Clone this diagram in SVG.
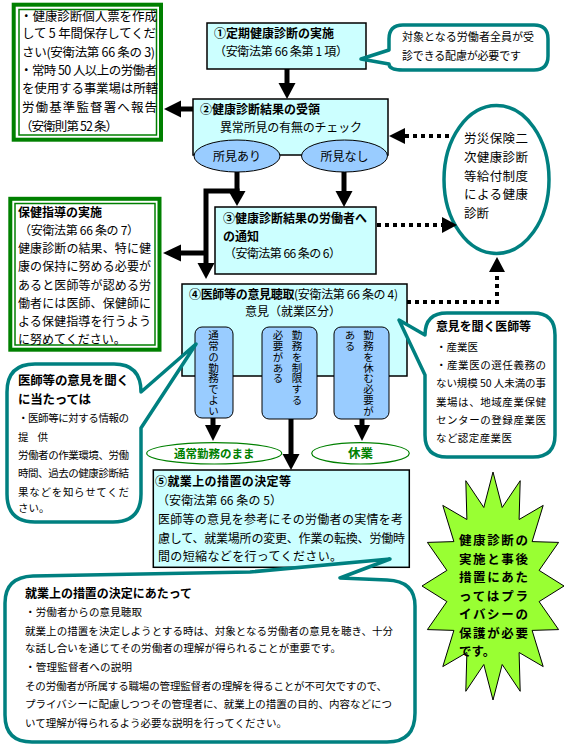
<svg xmlns="http://www.w3.org/2000/svg" width="567" height="746" viewBox="0 0 567 746">
<style>
text{font-family:"Noto Sans CJK JP","Noto Sans",sans-serif;fill:#000}
.f125{font-size:12.5px}.f12{font-size:12px}.f11{font-size:11px}.f105{font-size:10.5px}
.b{font-weight:bold}
.v{writing-mode:vertical-rl;font-size:10.5px;letter-spacing:0.3px}
.box{fill:#ccffff;stroke:#000;stroke-width:1.5}
.oval{fill:#99ccff;stroke:#000;stroke-width:1}
.callout{fill:#fff;stroke:#008080;stroke-width:3.5;stroke-linejoin:round}
.gframe{fill:#fff;stroke:#008000;stroke-width:4}
.gin{fill:none;stroke:#008000;stroke-width:1.5}
.gov{fill:#fff;stroke:#008000;stroke-width:1.2}
.gt{fill:#008000;font-weight:bold}
.line{stroke:#000;stroke-width:5;fill:none;stroke-linejoin:miter}
.dot{stroke:#000;stroke-width:4;stroke-dasharray:4 4;fill:none}
.head{fill:#000}
.star{fill:#99ff33;stroke:#000;stroke-width:1}
</style>

<g id="note-record">
<rect class="gframe" x="13.7" y="4.7" width="147.3" height="135"/>
<rect class="gin" x="19" y="9.5" width="137.5" height="125.5"/>
<text class="f125" x="20" y="20.8" textLength="137">・健康診断個人票を作成</text>
<text class="f125" x="22" y="38" textLength="134">して 5 年間保存してくだ</text>
<text class="f125" x="22" y="56.5" textLength="133">さい(安衛法第 66 条の 3)</text>
<text class="f125" x="20" y="74.8" textLength="137">・常時 50 人以上の労働者</text>
<text class="f125" x="22" y="93" textLength="136">を使用する事業場は所轄</text>
<text class="f125" x="22" y="111.5" textLength="135">労働基準監督署へ報告</text>
<text class="f125" x="20" y="130.8" textLength="98">（安衛則第 52 条）</text>
</g>

<g id="note-guidance">
<rect class="gframe" x="10.3" y="198.8" width="149.2" height="150.9"/>
<rect class="gin" x="15" y="203.5" width="140" height="141.5"/>
<text class="f12 b" x="18" y="217.3">保健指導の実施</text>
<text class="f12" x="19" y="234.6" textLength="120">（安衛法第 66 条の 7）</text>
<text class="f12" x="18" y="253" textLength="133">健康診断の結果、特に健</text>
<text class="f12" x="18" y="271.3" textLength="133">康の保持に努める必要が</text>
<text class="f12" x="18" y="289.6" textLength="133">あると医師等が認める労</text>
<text class="f12" x="18" y="308" textLength="133">働者には医師、保健師に</text>
<text class="f12" x="18" y="326.3" textLength="133">よる保健指導を行うよう</text>
<text class="f12" x="18" y="344">に努めてください。</text>
</g>

<g id="step1">
<rect class="box" x="207" y="23" width="159" height="46"/>
<text class="f12 b" x="214" y="37.9">①定期健康診断の実施</text>
<text class="f12" x="214" y="56.3" textLength="134">（安衛法第 66 条第 1 項）</text>
</g>

<g id="callout-top">
<path class="callout" d="M389,39 Q389,25 403,25 L534,25 Q548,25 548,39 L548,56 Q548,70 534,70 L403,70 Q389,70 389,64 L361,59 L389,50 Z"/>
<text class="f11" x="402" y="40.9" textLength="132">対象となる労働者全員が受</text>
<text class="f11" x="402" y="60.2" textLength="119">診できる配慮が必要です</text>
</g>

<g id="step2">
<rect class="box" x="193" y="99" width="195" height="56"/>
<text class="f12 b" x="200" y="113.9">②健康診断結果の受領</text>
<text class="f12" x="220" y="132.3" textLength="142">異常所見の有無のチェック</text>
<ellipse class="oval" cx="237" cy="156" rx="43" ry="16"/>
<text class="f12" x="237" y="160.5" text-anchor="middle">所見あり</text>
<ellipse class="oval" cx="344.5" cy="156" rx="43" ry="16"/>
<text class="f12" x="344.5" y="160.5" text-anchor="middle">所見なし</text>
</g>

<g id="rousai">
<ellipse cx="496.5" cy="179.5" rx="52.5" ry="74" fill="#fff" stroke="#008080" stroke-width="3.5"/>
<text class="f125" x="464" y="143" textLength="64">労災保険二</text>
<text class="f125" x="464" y="161.5" textLength="64">次健康診断</text>
<text class="f125" x="464" y="180.5" textLength="64">等給付制度</text>
<text class="f125" x="464" y="199" textLength="64">による健康</text>
<text class="f125" x="464" y="218">診断</text>
</g>

<g id="step3">
<rect class="box" x="215" y="207" width="161" height="67"/>
<text class="f12 b" x="223" y="222.9" textLength="144">③健康診断結果の労働者へ</text>
<text class="f12 b" x="223" y="240.6">の通知</text>
<text class="f12" x="224" y="257.9" textLength="117">（安衛法第 66 条の 6）</text>
</g>

<g id="step4">
<rect class="box" x="182" y="284" width="225" height="92"/>
<text class="f12" x="189" y="298.6" textLength="209"><tspan class="b">④医師等の意見聴取</tspan>(安衛法第 66 条の 4)</text>
<text class="f12" x="245" y="316.3">意見（就業区分）</text>
<rect class="oval" x="195" y="327" width="38" height="91" rx="7"/>
<text class="v" x="213.5" y="330">通常の勤務でよい</text>
<rect class="oval" x="262" y="327" width="55" height="92" rx="7"/>
<text class="v" x="297" y="330">勤務を制限する</text>
<text class="v" x="278" y="330">必要がある</text>
<rect class="oval" x="334" y="327" width="55" height="92" rx="7"/>
<text class="v" x="368.5" y="330">勤務を休む必要が</text>
<text class="v" x="350" y="330">ある</text>
</g>

<g id="callout-doctor-input">
<path class="callout" d="M7,392 Q7,364 35,364 L114,364 Q141,364 141,392 L196,344 L141,428 L141,494 Q141,522 113,522 L35,522 Q7,522 7,494 Z"/>
<text class="f125 b" x="18" y="384.7" textLength="111">医師等の意見を聞く</text>
<text class="f125 b" x="18" y="404" textLength="73">に当たっては</text>
<text class="f105" x="18" y="421.7" textLength="111">・医師等に対する情報の</text>
<text class="f105" x="18" y="440.7" textLength="30">提供</text>
<text class="f105" x="18" y="459" textLength="111">労働者の作業環境、労働</text>
<text class="f105" x="18" y="477.3" textLength="111">時間、過去の健康診断結</text>
<text class="f105" x="18" y="495.7" textLength="111">果などを知らせてくだ</text>
<text class="f105" x="18" y="512.3">さい。</text>
</g>

<g id="callout-doctors">
<path class="callout" d="M425,335 L399,320 L425,375 L425,435 Q425,457 447,457 L533,457 Q555,457 555,435 L555,335 Q555,313 533,313 L447,313 Q425,313 425,335 Z"/>
<text class="f12 b" x="436" y="331.3" textLength="95">意見を聞く医師等</text>
<text class="f105" x="436" y="350.7">・産業医</text>
<text class="f105" x="436" y="369" textLength="110">・産業医の選任義務の</text>
<text class="f105" x="436" y="387.3" textLength="110">ない規模 50 人未満の事</text>
<text class="f105" x="436" y="405.7" textLength="110">業場は、地域産業保健</text>
<text class="f105" x="436" y="424" textLength="110">センターの登録産業医</text>
<text class="f105" x="436" y="442.3" textLength="76">など認定産業医</text>
</g>

<g id="result-normal">
<ellipse class="gov" cx="214.2" cy="453.3" rx="67.5" ry="10.7"/>
<text class="gt" x="214.2" y="457.7" font-size="11.5" text-anchor="middle">通常勤務のまま</text>
</g>

<g id="result-leave">
<ellipse class="gov" cx="360.5" cy="453.3" rx="48.8" ry="10.7"/>
<text class="gt" x="360.5" y="458" font-size="12.5" text-anchor="middle">休業</text>
</g>

<g id="step5">
<rect class="box" x="153.3" y="470" width="256" height="97.3"/>
<text class="f12 b" x="155" y="486.3" textLength="136">⑤就業上の措置の決定等</text>
<text class="f12" x="157" y="504.6" textLength="125">（安衛法第 66 条の 5）</text>
<text class="f12" x="158" y="523.9" textLength="245">医師等の意見を参考にその労働者の実情を考</text>
<text class="f12" x="158" y="542.9" textLength="247">慮して、就業場所の変更、作業の転換、労働時</text>
<text class="f12" x="158" y="561.3" textLength="184">間の短縮などを行ってください。</text>
</g>

<g id="privacy">
<polygon class="star" points="493,472 502.2,507.5 520.2,480.7 519.1,519.5 543.2,505.4 532.1,541.6 558.6,542.4 539.1,570.4 564,586 539.1,601.6 558.6,629.6 532.1,630.4 543.2,666.6 519.1,652.5 520.2,691.3 502.2,664.5 493,700 483.8,664.5 465.8,691.3 466.9,652.5 442.8,666.6 453.9,630.4 427.4,629.6 446.9,601.6 422,586 446.9,570.4 427.4,542.4 453.9,541.6 442.8,505.4 466.9,519.5 465.8,480.7 483.8,507.5"/>
<text class="f125 b" x="459" y="545" textLength="69">健康診断の</text>
<text class="f125 b" x="459" y="563.5" textLength="69">実施と事後</text>
<text class="f125 b" x="459" y="582" textLength="69">措置にあた</text>
<text class="f125 b" x="459" y="600.5" textLength="69">ってはプラ</text>
<text class="f125 b" x="459" y="619" textLength="69">イバシーの</text>
<text class="f125 b" x="459" y="637.5" textLength="69">保護が必要</text>
<text class="f125 b" x="459" y="656">です。</text>
</g>

<g id="callout-measures">
<path class="callout" d="M5,603 Q5,577 33,576 L250,572 L390,559 L340,578 L387,580 Q415,581 415,606 L415,713 Q415,742 387,742 L32,742 Q5,742 5,715 Z"/>
<text class="f12 b" x="25" y="597.9" textLength="167">就業上の措置の決定にあたって</text>
<text class="f105" x="25" y="615.7" textLength="117">・労働者からの意見聴取</text>
<text class="f105" x="25" y="634.7" textLength="368">就業上の措置を決定しようとする時は、対象となる労働者の意見を聴き、十分</text>
<text class="f105" x="25" y="652.3" textLength="316">な話し合いを通じてその労働者の理解が得られることが重要です。</text>
<text class="f105" x="25" y="671.3" textLength="107">・管理監督者への説明</text>
<text class="f105" x="25" y="690" textLength="362">その労働者が所属する職場の管理監督者の理解を得ることが不可欠ですので、</text>
<text class="f105" x="25" y="708" textLength="367">プライバシーに配慮しつつその管理者に、就業上の措置の目的、内容などにつ</text>
<text class="f105" x="25" y="726.7" textLength="262">いて理解が得られるよう必要な説明を行ってください。</text>
</g>

<g id="connectors">
<path class="line" d="M287,69 V84"/>
<polygon class="head" points="278.5,83 295.5,83 287,99"/>
<path class="line" d="M193,109 H180"/>
<polygon class="head" points="181,100.5 181,117.5 164,109"/>
<path class="line" d="M237,172 V192"/>
<polygon class="head" points="228.5,191 245.5,191 237,206"/>
<path class="line" d="M239.5,191 H206 V264"/>
<polygon class="head" points="197.5,263 214.5,263 206,279"/>
<path class="line" d="M206,253 H180"/>
<polygon class="head" points="181,244.5 181,261.5 163,253"/>
<path class="line" d="M344,172 V192"/>
<polygon class="head" points="335.5,191 352.5,191 344,207"/>
<path class="line" d="M213,418 V426"/>
<polygon class="head" points="205,425 221,425 213,441"/>
<path class="line" d="M291,419 V455"/>
<polygon class="head" points="282.5,454 299.5,454 291,470"/>
<path class="line" d="M362,419 V426"/>
<polygon class="head" points="354,425 370,425 362,441"/>
<path class="dot" d="M449,136 H405"/>
<polygon class="head" points="405,128 405,144 389,136"/>
<path class="dot" d="M377,225 H442"/>
<polygon class="head" points="442,217 442,233 457,225"/>
<path class="dot" d="M407,302 H497 V272"/>
<polygon class="head" points="489,272 505,272 497,257"/>
</g>
</svg>
